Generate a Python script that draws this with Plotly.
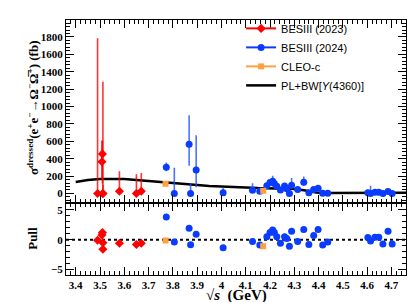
import plotly.graph_objects as go

# ---------------- data ----------------
red_x = [3.490, 3.508, 3.510, 3.512, 3.512, 3.580, 3.650, 3.670]
red_y = [0, 364, 455, 0, 0, 25, 0, 25]
red_eup = [1785, 245, 150, 1285, 100, 230, 220, 210]
red_edn = [0, 200, 340, 0, 0, 25, 0, 25]
red_pull = [-0.1, 0.8, 1.2, -0.5, -1.6, -0.6, -0.8, -0.6]

blue_x = [3.773, 3.806, 3.867, 3.873, 3.896, 4.007, 4.128, 4.158, 4.187, 4.200,
          4.211, 4.218, 4.228, 4.243, 4.260, 4.269, 4.280, 4.289, 4.314, 4.339,
          4.360, 4.380, 4.398, 4.417, 4.438, 4.603, 4.614, 4.632, 4.648, 4.665,
          4.686, 4.703]
blue_y = [300, 0, 565, 0, 270, 8, 37, 26, 90, 125,
          139, 115, 83, 40, 85, 55, 0, 94, 45, 128,
          8, 45, 60, 2, 2, 8, 0, 15, 15, 0,
          22, 0]
blue_eup = [55, 296, 335, 120, 400, 60, 80, 25, 30, 40,
            64, 30, 25, 20, 30, 25, 30, 83, 25, 67,
            20, 20, 20, 15, 15, 15, 90, 15, 15, 15,
            15, 15]
blue_edn = [45, 0, 245, 0, 200, 8, 30, 20, 30, 30,
            40, 30, 25, 20, 30, 25, 0, 40, 25, 40,
            8, 20, 20, 2, 2, 8, 0, 15, 15, 0,
            15, 0]
blue_pull = [3.8, -0.4, 1.9, -0.85, 0.9, -1.35, -0.3, -0.9, 0.5, 1.2,
             1.6, 1.2, 0.5, -0.6, 0.5, 0.2, -1.1, 1.4, -0.3, 1.7,
             -0.8, 0.7, 1.7, -0.9, -0.4, 0.35, -0.2, 0.4, 0.4, -0.7,
             1.4, -0.7]

cleo_x = [3.770, 4.172]
cleo_y = [113, 32]
cleo_err = [12, 8]
cleo_pull = [-0.15, -1.1]

fit_x = [3.40, 3.45, 3.50, 3.55, 3.60, 3.65, 3.70, 3.77, 3.85, 3.95,
         4.05, 4.15, 4.22, 4.29, 4.34, 4.37, 4.39, 4.42, 4.50, 4.60, 4.70, 4.76]
fit_y = [132, 155, 166, 168, 165, 156, 146, 127, 108, 86,
         71, 62, 58, 53, 37, 20, 10, 6, 6, 8, 8, 8]

legend_names = ["BESIII (2023)", "BESIII (2024)", "CLEO-c", "PL+BW[<i>Y</i>(4360)]"]

RED = "#ff0000"
BLUE = "#0a3cff"
ORANGE = "#ffa040"

fig = go.Figure()

# top panel (xaxis2 / yaxis2)
fig.add_trace(go.Scatter(x=fit_x, y=fit_y, mode="lines", line=dict(color="black", width=2.5),
                         xaxis="x2", yaxis="y2", showlegend=False, hoverinfo="skip"))
fig.add_trace(go.Scatter(x=red_x, y=red_y, mode="markers", xaxis="x2", yaxis="y2",
                         marker=dict(symbol="diamond", size=7, color=RED),
                         error_y=dict(type="data", symmetric=False, array=red_eup, arrayminus=red_edn,
                                      color="rgba(255,0,0,0.8)", thickness=1.6, width=0),
                         showlegend=False))
fig.add_trace(go.Scatter(x=blue_x, y=blue_y, mode="markers", xaxis="x2", yaxis="y2",
                         marker=dict(symbol="circle", size=7, color=BLUE),
                         error_y=dict(type="data", symmetric=False, array=blue_eup, arrayminus=blue_edn,
                                      color="rgba(30,80,255,0.8)", thickness=1.6, width=0),
                         showlegend=False))
fig.add_trace(go.Scatter(x=cleo_x, y=cleo_y, mode="markers", xaxis="x2", yaxis="y2",
                         marker=dict(symbol="square", size=6, color=ORANGE),
                         error_y=dict(type="data", array=cleo_err, color=ORANGE, thickness=1.6, width=0),
                         showlegend=False))

# pull panel
fig.add_trace(go.Scatter(x=[3.36, 4.76], y=[0, 0], mode="lines",
                         line=dict(color="black", width=2, dash="dot"),
                         showlegend=False, hoverinfo="skip"))
fig.add_trace(go.Scatter(x=red_x, y=red_pull, mode="markers",
                         marker=dict(symbol="diamond", size=7, color=RED), showlegend=False))
fig.add_trace(go.Scatter(x=blue_x, y=blue_pull, mode="markers",
                         marker=dict(symbol="circle", size=7, color=BLUE), showlegend=False))
fig.add_trace(go.Scatter(x=cleo_x, y=cleo_pull, mode="markers",
                         marker=dict(symbol="square", size=6, color=ORANGE), showlegend=False))

# legend entries
leg_styles = [
    dict(mode="lines+markers", marker=dict(symbol="diamond", size=7, color=RED), line=dict(color=RED, width=2)),
    dict(mode="lines+markers", marker=dict(symbol="circle", size=7, color=BLUE), line=dict(color=BLUE, width=2)),
    dict(mode="lines+markers", marker=dict(symbol="square", size=6, color=ORANGE), line=dict(color=ORANGE, width=2)),
    dict(mode="lines", line=dict(color="black", width=2.5)),
]
for name, st in zip(legend_names, leg_styles):
    fig.add_trace(go.Scatter(x=[None], y=[None], name=name, xaxis="x2", yaxis="y2", **st))

serif_b = dict(family="Liberation Serif, Times New Roman, serif", size=11, color="black", weight="bold")
split = 0.2816
common_x = dict(range=[3.36, 4.76], showline=True, linecolor="black", linewidth=1, mirror="ticks",
                ticks="inside", ticklen=8, tickcolor="black", dtick=0.1, tick0=3.4,
                minor=dict(ticks="inside", ticklen=4, dtick=0.02, tickcolor="black"),
                showgrid=False, zeroline=False, automargin=False)

fig.update_layout(
    width=419, height=302,
    margin=dict(l=58, r=21, t=6, b=35),
    paper_bgcolor="white", plot_bgcolor="white",
    xaxis=dict(**common_x, domain=[0, 1], anchor="y", tickfont=serif_b, tickformat=".1~f"),
    xaxis2=dict(**common_x, domain=[0, 1], anchor="y2", matches="x", showticklabels=False),
    yaxis=dict(domain=[0, split], anchor="x", range=[-5.9, 6.1], tickvals=[-5, 0, 5],
               showline=True, linecolor="black", linewidth=1, mirror="ticks",
               ticks="inside", ticklen=8, tickcolor="black",
               minor=dict(ticks="inside", ticklen=4, dtick=1, tickcolor="black"),
               showgrid=False, zeroline=False, tickfont=serif_b, automargin=False),
    yaxis2=dict(domain=[split, 1], anchor="x2", range=[-112, 1995], dtick=200, tick0=0,
                showline=True, linecolor="black", linewidth=1, mirror="ticks",
                ticks="inside", ticklen=8, tickcolor="black",
                minor=dict(ticks="inside", ticklen=4, dtick=40, tickcolor="black"),
                showgrid=False, zeroline=False, tickfont=serif_b, automargin=False),
    legend=dict(x=0.515, y=1.024, xanchor="left", yanchor="top", bgcolor="rgba(0,0,0,0)",
                font=dict(family="Liberation Sans, Arial, sans-serif", size=11, color="black"),
                itemwidth=30, tracegroupgap=0),
    showlegend=True,
    annotations=[
        dict(text="σ<sup>dressed</sup>(e<sup>+</sup>e<sup>−</sup>→Ω<sup>−</sup>Ω̅<sup>+</sup>) (fb)",
             xref="paper", yref="paper", x=-0.097, y=0.655, textangle=-90, showarrow=False,
             xanchor="center", yanchor="middle",
             font=dict(family="Liberation Serif, serif", size=13, color="black", weight="bold")),
        dict(text="Pull", xref="paper", yref="paper", x=-0.097, y=0.142, textangle=-90, showarrow=False,
             xanchor="center", yanchor="middle",
             font=dict(family="Liberation Serif, serif", size=13, color="black", weight="bold")),
        dict(text="√<i>s</i>  (GeV)", xref="paper", yref="paper", x=0.5, y=-0.08, showarrow=False,
             xanchor="center", yanchor="middle",
             font=dict(family="Liberation Serif, serif", size=15, color="black", weight="bold")),
    ],
)

fig.write_html("out.html")
